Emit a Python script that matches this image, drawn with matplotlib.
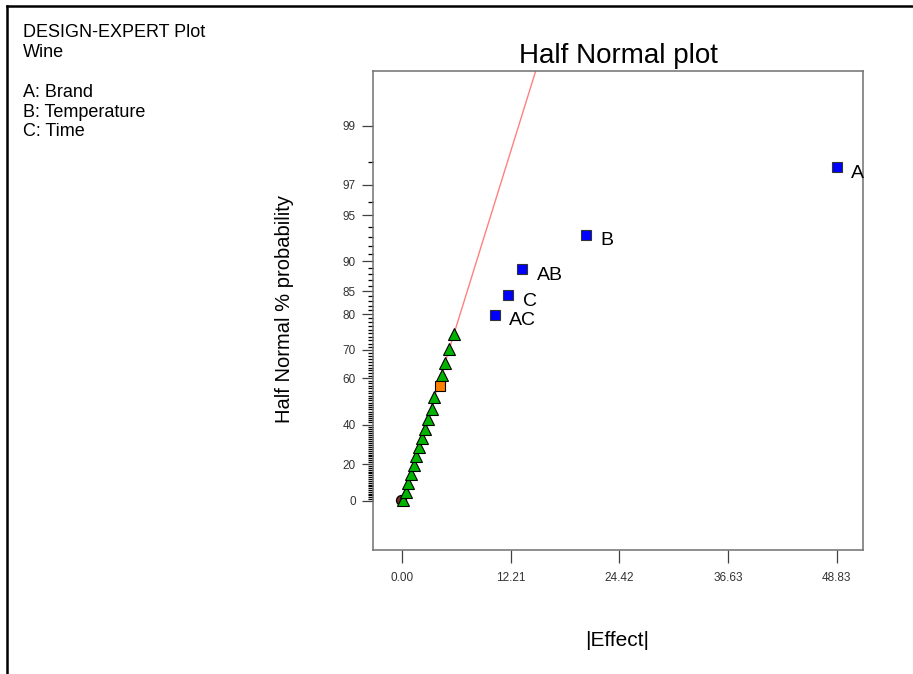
from statistics import NormalDist

import numpy as np
import matplotlib
matplotlib.use('Agg')
import matplotlib.pyplot as plt
from matplotlib.lines import Line2D

plt.rcParams['font.family'] = ['Liberation Sans', 'DejaVu Sans']

# values: |effect| and half normal % probability
green_effect = [0.08, 0.42, 0.64, 0.98, 1.32, 1.54, 1.88, 2.21, 2.55, 2.89, 3.34, 3.56,
                4.46, 4.80, 5.25, 5.81]
green_prob = [0.55, 4.9, 9.8, 14.7, 19.3, 24.0, 28.7, 33.5, 37.9, 42.6, 47.4, 52.3,
              61.1, 65.8, 70.2, 74.7]
orange_effect = [4.24]
orange_prob = [57.0]
circle_effect = [-0.1]
circle_prob = [0.5]
term_names = ['AC', 'C', 'AB', 'B', 'A']
term_effect = [10.42, 11.92, 13.49, 20.62, 48.83]
term_prob = [79.8, 84.2, 88.8, 93.2, 97.8]

line_slope = 5.09  # |effect| per normal score, fitted line through the origin

y_major = [0, 20, 40, 60, 70, 80, 85, 90, 95, 97, 99]
y_minor = [p for p in range(1, 99) if p not in y_major]
x_ticks = [0.0, 12.2075, 24.415, 36.6225, 48.83]
x_ticklabels = ['0.00', '12.21', '24.42', '36.63', '48.83']

info_lines = ['DESIGN-EXPERT Plot', 'Wine', '', 'A: Brand', 'B: Temperature', 'C: Time']

nd = NormalDist()


def half_normal(p):
    # half normal score for a percentage
    return np.array([nd.inv_cdf(0.5 + v / 200.0) for v in np.atleast_1d(p)])


W, H = 913, 674
fig = plt.figure(figsize=(W / 100, H / 100), dpi=100)
ax = fig.add_axes([373 / W, 1 - 549.5 / H, 490.3 / W, 478.5 / H])

z_lo, z_hi = -0.333, 2.951
zz = np.linspace(0, z_hi, 50)
ax.plot(line_slope * zz, zz, color='#ff8080', lw=1.0, zorder=1)

ax.plot(circle_effect, half_normal(circle_prob), 'o', ms=7.2, mfc='#7a2a2a', mec='black',
        mew=0.9, zorder=2)
ax.plot(green_effect, half_normal(green_prob), '^', ms=8.8, mfc='#00b400', mec='black',
        mew=0.8, zorder=3)
ax.plot(orange_effect, half_normal(orange_prob), 's', ms=7.2, mfc='#ff8000', mec='black',
        mew=0.8, zorder=3)
ax.plot(term_effect, half_normal(term_prob), 's', ms=7.2, mfc='#0000ff', mec='#333333',
        mew=0.8, zorder=3)
for name, x, z in zip(term_names, term_effect, half_normal(term_prob)):
    ax.annotate(name, (x, z), xytext=(10.4, -7.4), textcoords='offset points',
                ha='left', va='baseline', fontsize=14, color='black', annotation_clip=False)

ax.set_xlim(-3.26, 51.83)
ax.set_ylim(z_lo, z_hi)
ax.set_xticks(x_ticks)
ax.set_xticklabels(x_ticklabels)
ax.set_yticks(half_normal(y_major))
ax.set_yticklabels([str(p) for p in y_major])
ax.set_yticks(half_normal(y_minor), minor=True)

for s in ax.spines.values():
    s.set_color('#707070')
    s.set_linewidth(1.1)
ax.tick_params(axis='both', colors='#404040', labelcolor='#333333', labelsize=8.5, width=0.9)
ax.tick_params(axis='y', which='major', length=8, pad=4.5)
ax.tick_params(axis='y', which='minor', length=3.6, width=0.9)
ax.tick_params(axis='x', which='major', length=9, pad=7)

ax.set_title('Half Normal plot', fontsize=20, pad=6)
fig.text(285 / W, 1 - 309 / H, 'Half Normal % probability', rotation=90, ha='center',
         va='center', fontsize=14.5)
fig.text(617 / W, 1 - 640 / H, '|Effect|', ha='center', va='center', fontsize=15)

for i, line in enumerate(info_lines):
    fig.text(22.5 / W, 1 - (37.4 + i * 19.8) / H, line, ha='left', va='baseline', fontsize=13)

# frame lines along top and left edge
fig.add_artist(Line2D([7 / W, 1], [1 - 5.5 / H, 1 - 5.5 / H], color='black', lw=1.8))
fig.add_artist(Line2D([7 / W, 7 / W], [0, 1 - 5.5 / H], color='black', lw=1.8))

fig.savefig('out.png', dpi=100, facecolor='white')
